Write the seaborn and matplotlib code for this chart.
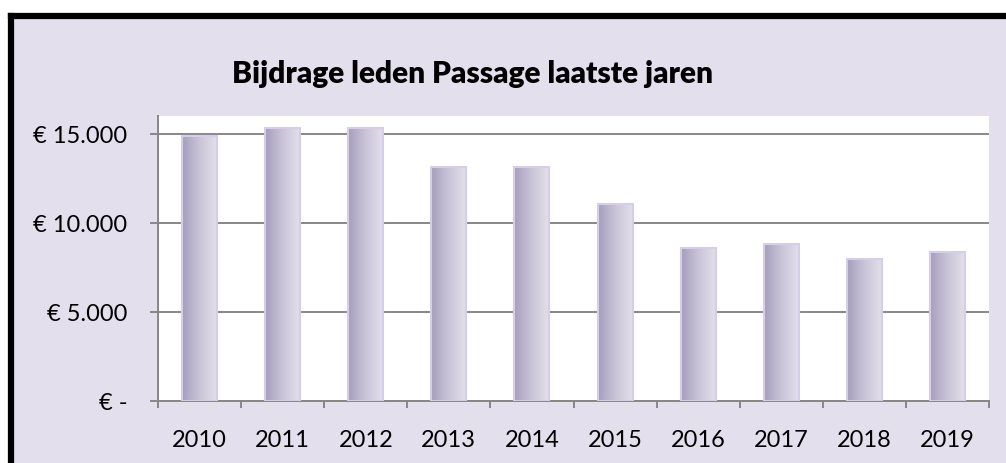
import numpy as np
import pandas as pd
import seaborn as sns
import matplotlib.pyplot as plt
from matplotlib.patches import Rectangle
from matplotlib.lines import Line2D
from matplotlib.colors import LinearSegmentedColormap
from matplotlib.ticker import FixedLocator

# ===============================
# DATA
# ===============================
years    = ["2010", "2011", "2012", "2013", "2014", "2015", "2016", "2017", "2018", "2019"]
bijdrage = [14850, 15300, 15300, 13100, 13100, 11050, 8570, 8800, 7950, 8380]

y_ticks  = [0, 5000, 10000, 15000]
y_labels = ["€ -", "€ 5.000", "€ 10.000", "€ 15.000"]

df = pd.DataFrame({"jaar": years, "bijdrage": bijdrage})

# ===============================
# STYLE
# ===============================
sns.set_style("white")
plt.rcParams["font.family"] = ["Lato", "DejaVu Sans"]
plt.rcParams["text.color"] = "black"
plt.rcParams["xtick.color"] = "black"
plt.rcParams["ytick.color"] = "black"

LAVENDER = "#e4dfec"
GRID     = "#878787"
bar_cmap = LinearSegmentedColormap.from_list("bar", ["#a69ebd", "#c9c4d7", "#e3e0ea"])

# ===============================
# FIGURE
# ===============================
fig = plt.figure(figsize=(10.06, 4.64), dpi=100)
fig.patch.set_facecolor(LAVENDER)

# chart area with thick black frame (cropped right/bottom); white margin top/left
left_x = 10.5 / 1006
top_y  = 1 - 17 / 464
fig.patches.append(Rectangle((0, 0), left_x, 1, transform=fig.transFigure,
                             facecolor="white", edgecolor="none", zorder=-5))
fig.patches.append(Rectangle((0, top_y), 1, 1 - top_y, transform=fig.transFigure,
                             facecolor="white", edgecolor="none", zorder=-5))
fig.lines.append(Line2D([left_x, left_x], [-0.05, top_y], transform=fig.transFigure,
                        color="black", linewidth=4.5, zorder=-4, solid_capstyle="projecting"))
fig.lines.append(Line2D([left_x, 1.05], [top_y, top_y], transform=fig.transFigure,
                        color="black", linewidth=4.5, zorder=-4, solid_capstyle="projecting"))

ax = fig.add_axes([158 / 1006, 1 - 402 / 464, (989 - 158) / 1006, (402 - 116.7) / 464])
ax.set_zorder(2)
ax.set_facecolor("white")

sns.barplot(data=df, x="jaar", y="bijdrage", ax=ax, width=0.42,
            color="#c8c2d6", edgecolor="#d6cde8", linewidth=1.5, zorder=3)

# gradient fill per bar
grad = np.linspace(0, 1, 256).reshape(1, -1)
for p in ax.patches:
    x0, y0 = p.get_x(), p.get_y()
    w, h = p.get_width(), p.get_height()
    p.set_facecolor("none")
    ax.imshow(grad, extent=[x0, x0 + w, y0, y0 + h], aspect="auto",
              cmap=bar_cmap, zorder=2.5, interpolation="bicubic")

ax.set_xlim(-0.5, len(years) - 0.5)
ax.set_ylim(0, 16000)

# ===============================
# AXES / GRID
# ===============================
ax.set_yticks(y_ticks)
ax.set_yticklabels(y_labels)
ax.yaxis.grid(True, color=GRID, linewidth=1.4, zorder=1)
ax.set_axisbelow(True)

ax.xaxis.set_minor_locator(FixedLocator(np.arange(-0.5, len(years), 1)))
ax.tick_params(axis="x", which="major", length=0, pad=20, labelsize=17)
ax.tick_params(axis="x", which="minor", length=5, width=1.4, color=GRID, direction="out")
ax.tick_params(axis="y", length=6, width=1.4, color=GRID, direction="out", pad=16, labelsize=17)
ax.tick_params(left=True, bottom=False)
ax.tick_params(axis="x", which="minor", bottom=True)

for side in ["top", "right"]:
    ax.spines[side].set_visible(False)
for side in ["left", "bottom"]:
    ax.spines[side].set_color(GRID)
    ax.spines[side].set_linewidth(1.4)

ax.set_xlabel("")
ax.set_ylabel("")

fig.text(472 / 1006, 1 - 83 / 464, "Bijdrage leden Passage laatste jaren",
         ha="center", va="baseline", fontsize=21.5, fontweight="heavy", color="black")

fig.savefig("out.png", dpi=100, facecolor=LAVENDER)
